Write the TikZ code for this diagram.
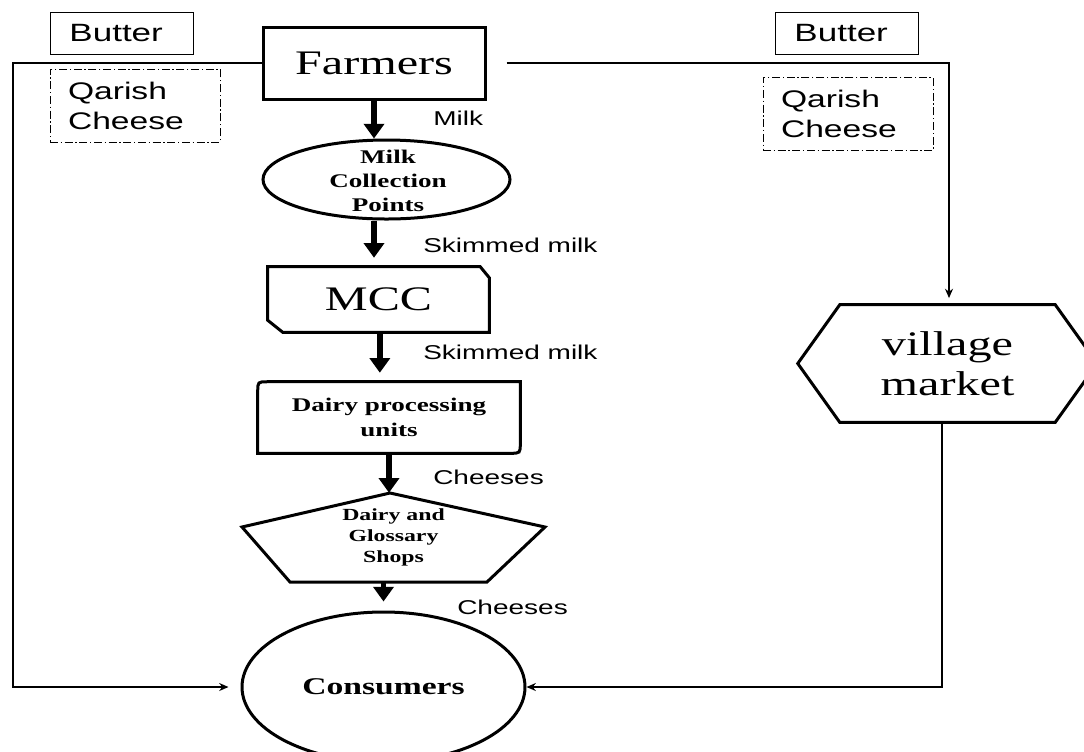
\documentclass[tikz,border=0pt]{standalone}
\usepackage{fontspec}
\setmainfont{Liberation Serif}[FakeStretch=1.4]
\newfontfamily\lsans{Liberation Sans}[FakeStretch=1.4]
\usetikzlibrary{arrows.meta,calc,shapes.geometric}
\begin{document}
\begin{tikzpicture}[x=0.75pt,y=-0.75pt,
  thickshape/.style={draw, line width=2.25pt},
  bigarrow/.style={line width=4.25pt, -{Triangle[width=15pt,length=11pt]}},
  thinline/.style={line width=1.1pt},
  thinarrow/.style={line width=1.1pt, -{Stealth[width=6pt,length=7pt]}},
  prodbox/.style={draw, line width=0.75pt, minimum width=107.25pt, minimum height=31.5pt, inner sep=0pt, font=\lsans\fontsize{18.75}{22}\selectfont},
  dashbox/.style={draw, line width=0.75pt, dash pattern=on 6pt off 2pt on 1pt off 2pt, inner xsep=13.5pt, inner ysep=0pt, text width=100.5pt, minimum height=54.75pt, align=left, font=\lsans\fontsize{18}{22.5}\selectfont},
  flowlabel/.style={anchor=west, inner sep=0pt, font=\lsans\fontsize{15}{18}\selectfont},
  bigserif/.style={font=\fontsize{25.8}{30}\selectfont},
]
\useasboundingbox (0,0) rectangle (1084,751);
\clip (0,0) rectangle (1084,751);

% product boxes
\node[prodbox] (butterL) at (121.5,33) {Butter\hspace*{8pt}};
\node[prodbox] (butterR) at (846.5,33) {Butter\hspace*{8pt}};
\node[dashbox] (qarL) at (135,105.5) {Qarish\\Cheese};
\node[dashbox] (qarR) at (848,114) {Qarish\\Cheese};

% Farmers
\node[thickshape, minimum width=166.5pt, minimum height=54pt, inner sep=0pt, bigserif] (farm) at (374,63) {Farmers};

% Milk collection points
\node[thickshape, ellipse, minimum width=185.25pt, minimum height=59.25pt, inner sep=0pt] (mcp) at (386.5,179.5) {};
\node[align=center, inner sep=0pt, font=\bfseries\fontsize{14.5}{18}\selectfont] (mcptext) at (388,181) {Milk\\Collection\\Points};

% MCC
\node[minimum width=165.75pt, minimum height=48.75pt, inner sep=0pt, bigserif] (mcc) at (378.5,299.5) {MCC};
\draw[thickshape] (mcc.north west) -- ($(mcc.north east)+(-9,0)$) -- ($(mcc.north east)+(0,11)$) -- (mcc.south east) -- ($(mcc.south west)+(15,0)$) -- ($(mcc.south west)+(0,-12)$) -- cycle;

% Dairy processing units
\node[minimum width=196.5pt, minimum height=53.25pt, inner sep=0pt, align=center, font=\bfseries\fontsize{14.5}{18.75}\selectfont] (dpu) at (389,417.5) {Dairy processing\\units};
\draw[thickshape] ($(dpu.north west)+(0,10)$) .. controls (dpu.north west) .. ($(dpu.north west)+(10,0)$) -- (dpu.north east) -- ($(dpu.south east)+(0,-10)$) .. controls (dpu.south east) .. ($(dpu.south east)+(-10,0)$) -- (dpu.south west) -- cycle;

% Dairy and Glossary Shops
\node[minimum width=227.25pt, minimum height=66.75pt, inner sep=0pt, align=center, font=\bfseries\fontsize{12.75}{15.75}\selectfont] (shop) at (393.5,537.5) {Dairy and\\Glossary\\Shops};
\draw[thickshape] (390,493) -- (545,527) -- (487,582) -- (290,582) -- (242,527) -- cycle;

% Consumers
\node[thickshape, ellipse, minimum width=212.25pt, minimum height=112.5pt, inner sep=0pt, font=\bfseries\fontsize{18}{22}\selectfont] (cons) at (383.5,687) {Consumers};

% village market
\node[minimum width=224.25pt, minimum height=87.75pt, inner sep=0pt, align=center, font=\fontsize{25.8}{30}\selectfont] (vm) at (947.5,363.5) {village\\market};
\draw[thickshape] (vm.west) -- ($(vm.north west)+(42,0)$) -- ($(vm.north east)+(-42,0)$) -- (vm.east) -- ($(vm.south east)+(-42,0)$) -- ($(vm.south west)+(42,0)$) -- cycle;

% thin connectors
\coordinate (lc) at (13,63);
\coordinate (lb) at (13,687);
\draw[thinarrow, shorten >=9pt] (farm.west) -- (lc) -- (lb) -- (cons.west);
\coordinate (rc) at (949,63);
\draw[thinarrow, shorten >=5pt] ([xshift=15pt]farm.east) -- (rc) -- (rc |- vm.north);
\coordinate (rb) at (942,687);
\draw[thinarrow] (vm.south -| rb) -- (rb) -- (cons.east);

% main flow arrows
\draw[bigarrow] (farm.south) -- (farm.south |- mcp.north);
\draw[bigarrow, shorten >=6.75pt] (mcp.south -| farm.south) -- (mcc.north -| farm.south);
\draw[bigarrow, shorten >=6.75pt] ([xshift=1pt]mcc.south) -- ([xshift=1pt]mcc.south |- dpu.north);
\draw[bigarrow] (dpu.south) -- (dpu.south |- shop.north);
\draw[bigarrow, shorten >=6.75pt] (shop.south -| cons.north) -- (cons.north);

% flow labels
\node[flowlabel] (lmilk) at (433,118) {Milk};
\node[flowlabel] (lsk1) at (423,245) {Skimmed milk};
\node[flowlabel] (lsk2) at (423,352) {Skimmed milk};
\node[flowlabel] (lch1) at (433,477) {Cheeses};
\node[flowlabel] (lch2) at (457,607) {Cheeses};
\end{tikzpicture}
\end{document}
